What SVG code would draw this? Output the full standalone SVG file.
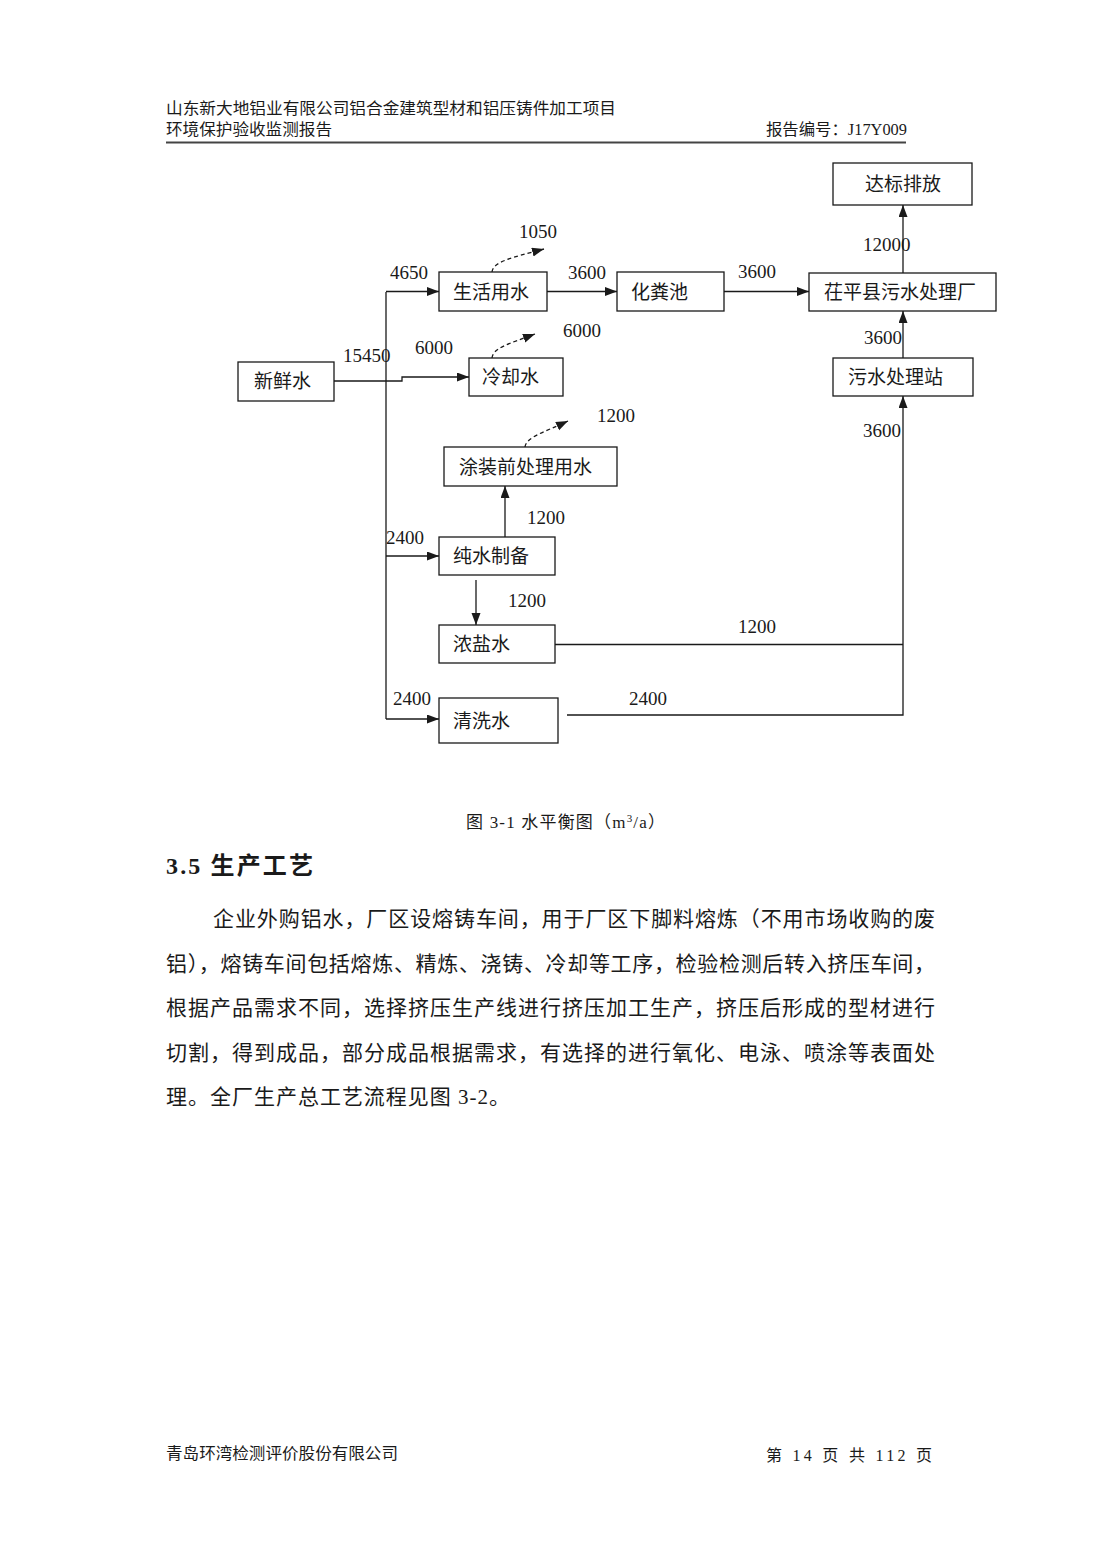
<svg xmlns="http://www.w3.org/2000/svg" width="1100" height="1555" viewBox="0 0 1100 1555">
<style>
.bg{fill:#ffffff}
.box{fill:#ffffff;stroke:#1a1a1a;stroke-width:1.3}
.ln{fill:none;stroke:#1a1a1a;stroke-width:1.3}
.dash{fill:none;stroke:#1a1a1a;stroke-width:1.3;stroke-dasharray:4 3}
.bt{font-family:"Noto Sans CJK SC","Liberation Serif",sans-serif;font-size:19px;fill:#1a1a1a}
.num{font-family:"Liberation Serif","Noto Sans CJK SC",serif;font-size:19px;fill:#1a1a1a}
.hd{font-family:"Liberation Serif","Noto Sans CJK SC",serif;font-size:16px;fill:#1a1a1a}
.cap{font-family:"Liberation Serif","Noto Sans CJK SC",serif;font-size:17px;fill:#1a1a1a}
.h2{font-family:"Liberation Serif","Noto Sans CJK SC",serif;font-size:24px;font-weight:bold;fill:#1a1a1a}
.p{font-family:"Liberation Serif","Noto Sans CJK SC",serif;font-size:21px;fill:#1a1a1a}
.ft{font-family:"Liberation Serif","Noto Sans CJK SC",serif;font-size:16px;fill:#1a1a1a}
</style>
<defs>
<marker id="ah" markerUnits="userSpaceOnUse" markerWidth="13" markerHeight="10" refX="12" refY="4.5" orient="auto">
<path d="M0,0 L12,4.5 L0,9 z" fill="#1a1a1a"/>
</marker>
</defs>
<rect class="bg" x="0" y="0" width="1100" height="1555"/>

<g id="header">
<text class="hd" x="166" y="114" textLength="450" lengthAdjust="spacingAndGlyphs">山东新大地铝业有限公司铝合金建筑型材和铝压铸件加工项目</text>
<text class="hd" x="166" y="135" textLength="166" lengthAdjust="spacingAndGlyphs">环境保护验收监测报告</text>
<text class="hd" x="766" y="135" textLength="141" lengthAdjust="spacingAndGlyphs">报告编号：J17Y009</text>
<line x1="166" y1="142.5" x2="906" y2="142.5" stroke="#444" stroke-width="1.8"/>
</g>

<g id="connectors">
<polyline class="ln" points="386,292 386,719"/>
<line class="ln" x1="386" y1="291.5" x2="439" y2="291.5" marker-end="url(#ah)"/>
<polyline class="ln" points="334,381 402,381 402,377 469,377" marker-end="url(#ah)"/>
<line class="ln" x1="386" y1="556" x2="439" y2="556" marker-end="url(#ah)"/>
<line class="ln" x1="386" y1="719" x2="439" y2="719" marker-end="url(#ah)"/>
<line class="ln" x1="505" y1="537" x2="505" y2="486" marker-end="url(#ah)"/>
<line class="ln" x1="476" y1="580" x2="476" y2="625" marker-end="url(#ah)"/>
<polyline class="ln" points="555,644.5 903,644.5"/>
<polyline class="ln" points="567,715 903,715 903,396" marker-end="url(#ah)"/>
<line class="ln" x1="903" y1="358" x2="903" y2="311" marker-end="url(#ah)"/>
<line class="ln" x1="903" y1="273" x2="903" y2="205" marker-end="url(#ah)"/>
<line class="ln" x1="547" y1="291.5" x2="617" y2="291.5" marker-end="url(#ah)"/>
<line class="ln" x1="724" y1="291.5" x2="809" y2="291.5" marker-end="url(#ah)"/>
<path class="dash" d="M492,272 C493,262 510,258 544,249" marker-end="url(#ah)"/>
<path class="dash" d="M492,358 C493,348 508,344 535,334" marker-end="url(#ah)"/>
<path class="dash" d="M525,447 C526,437 545,432 568,421" marker-end="url(#ah)"/>
</g>

<g id="labels">
<text class="num" x="519" y="238">1050</text>
<text class="num" x="390" y="279">4650</text>
<text class="num" x="568" y="279">3600</text>
<text class="num" x="738" y="278">3600</text>
<text class="num" x="863" y="251">12000</text>
<text class="num" x="864" y="344">3600</text>
<text class="num" x="343" y="362">15450</text>
<text class="num" x="415" y="354">6000</text>
<text class="num" x="563" y="337">6000</text>
<text class="num" x="597" y="422">1200</text>
<text class="num" x="527" y="524">1200</text>
<text class="num" x="386" y="544">2400</text>
<text class="num" x="508" y="607">1200</text>
<text class="num" x="393" y="705">2400</text>
<text class="num" x="629" y="705">2400</text>
<text class="num" x="738" y="633">1200</text>
<text class="num" x="863" y="437">3600</text>
</g>

<g id="n-dabiao"><rect class="box" x="833" y="163" width="139" height="42"/><text class="bt" x="865" y="191">达标排放</text></g>
<g id="n-shenghuo"><rect class="box" x="439" y="272" width="108" height="39"/><text class="bt" x="453" y="298.5">生活用水</text></g>
<g id="n-huafenchi"><rect class="box" x="617" y="272" width="107" height="39"/><text class="bt" x="631" y="298.5">化粪池</text></g>
<g id="n-chiping"><rect class="box" x="809" y="273" width="187" height="38"/><text class="bt" x="824" y="299">茌平县污水处理厂</text></g>
<g id="n-wushuizhan"><rect class="box" x="833" y="358" width="140" height="38"/><text class="bt" x="848" y="384">污水处理站</text></g>
<g id="n-xinxian"><rect class="box" x="238" y="362" width="96" height="39"/><text class="bt" x="254" y="388">新鲜水</text></g>
<g id="n-lengque"><rect class="box" x="469" y="358" width="94" height="38"/><text class="bt" x="482" y="384">冷却水</text></g>
<g id="n-tuzhuang"><rect class="box" x="444" y="447" width="173" height="39"/><text class="bt" x="459" y="473.5">涂装前处理用水</text></g>
<g id="n-chunshui"><rect class="box" x="439" y="537" width="116" height="38"/><text class="bt" x="453" y="563">纯水制备</text></g>
<g id="n-nongyan"><rect class="box" x="439" y="625" width="116" height="38"/><text class="bt" x="453" y="651">浓盐水</text></g>
<g id="n-qingxi"><rect class="box" x="439" y="698" width="119" height="45"/><text class="bt" x="453" y="727.5">清洗水</text></g>

<g id="body">
<text class="cap" x="466" y="828" textLength="199" lengthAdjust="spacing">图 3-1  水平衡图（m<tspan font-size="11" dy="-6">3</tspan><tspan dy="6">/a）</tspan></text>
<text class="h2" x="166" y="874" textLength="147" lengthAdjust="spacing">3.5  生产工艺</text>
<text class="p" x="213" y="926" textLength="722" lengthAdjust="spacing">企业外购铝水，厂区设熔铸车间，用于厂区下脚料熔炼（不用市场收购的废</text>
<text class="p" x="166" y="971" textLength="769" lengthAdjust="spacing">铝），熔铸车间包括熔炼、精炼、浇铸、冷却等工序，检验检测后转入挤压车间，</text>
<text class="p" x="166" y="1015" textLength="769" lengthAdjust="spacing">根据产品需求不同，选择挤压生产线进行挤压加工生产，挤压后形成的型材进行</text>
<text class="p" x="166" y="1060" textLength="769" lengthAdjust="spacing">切割，得到成品，部分成品根据需求，有选择的进行氧化、电泳、喷涂等表面处</text>
<text class="p" x="166" y="1104" textLength="344" lengthAdjust="spacing">理。全厂生产总工艺流程见图 3-2。</text>
</g>

<g id="footer">
<text class="ft" x="166" y="1459" textLength="232" lengthAdjust="spacingAndGlyphs">青岛环湾检测评价股份有限公司</text>
<text class="ft" x="766" y="1461" font-size="18" textLength="166" lengthAdjust="spacing">第 14 页 共 112 页</text>
</g>
</svg>
